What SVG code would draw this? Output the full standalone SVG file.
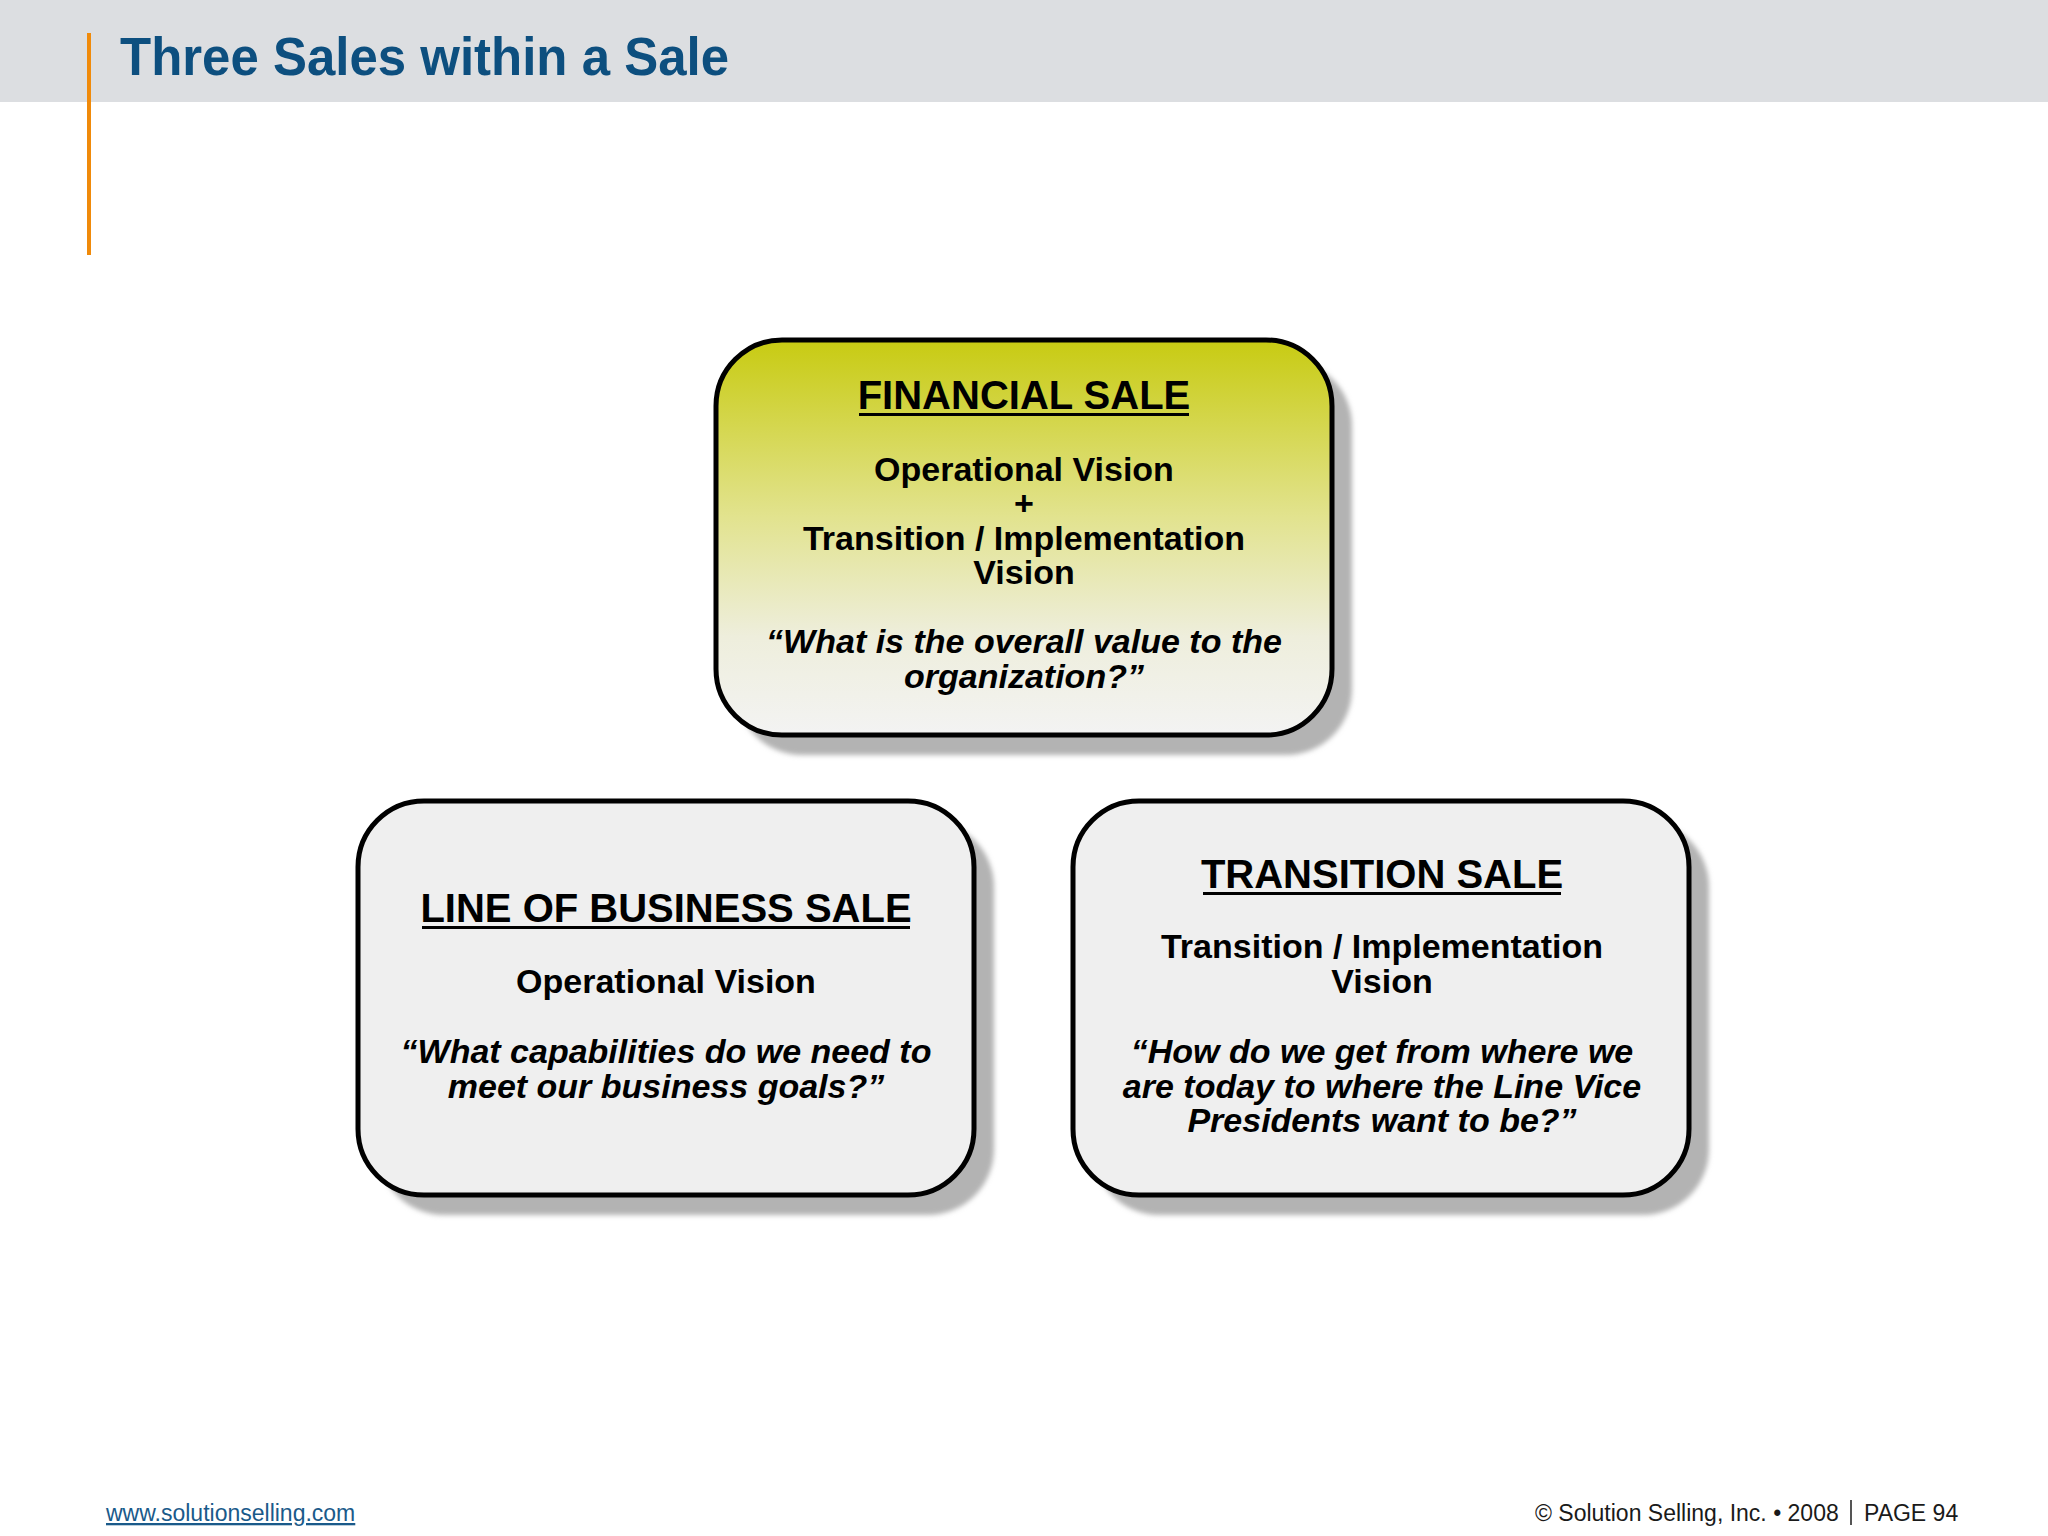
<svg xmlns="http://www.w3.org/2000/svg" width="2048" height="1536" viewBox="0 0 2048 1536">
  <style>
    .box { stroke: #000; stroke-width: 5; }
    .shadow { fill: #b3b3b3; }
    .head { font-family: "Liberation Sans", Arial, sans-serif; font-weight: bold; font-size: 40px; fill: #000; text-anchor: middle; }
    .sub { font-family: "Liberation Sans", Arial, sans-serif; font-weight: bold; font-size: 34px; fill: #000; text-anchor: middle; }
    .q { font-family: "Liberation Sans", Arial, sans-serif; font-weight: bold; font-style: italic; font-size: 34px; fill: #000; text-anchor: middle; }
    .foot { font-family: "Liberation Sans", Arial, sans-serif; font-size: 23px; fill: #1a1a1a; }
  </style>
  <defs>
    <linearGradient id="finGrad" x1="0" y1="0" x2="0" y2="1">
      <stop offset="0" stop-color="#c8cb12"/>
      <stop offset="0.45" stop-color="#e2e38f"/>
      <stop offset="0.75" stop-color="#eeeedc"/>
      <stop offset="1" stop-color="#f3f3f3"/>
    </linearGradient>
    <filter id="blur" x="-10%" y="-10%" width="120%" height="120%">
      <feGaussianBlur stdDeviation="2.5"/>
    </filter>
  </defs>

  <rect x="0" y="0" width="2048" height="102" fill="#dcdee1"/>
  <rect x="87" y="33" width="4" height="222" fill="#f08a0a"/>
  <text x="120" y="75" font-family="Liberation Sans, Arial, sans-serif" font-weight="bold" font-size="54" fill="#0d4f7f" textLength="609" lengthAdjust="spacingAndGlyphs">Three Sales within a Sale</text>

  <g id="connectors"></g>

  <g id="financial-sale">
    <rect class="shadow" x="736" y="360" width="616" height="395" rx="66" filter="url(#blur)"/>
    <rect class="box" x="716" y="340" width="616" height="395" rx="66" fill="url(#finGrad)"/>
    <text class="head" x="1024" y="409">FINANCIAL SALE</text>
    <rect x="859" y="413" width="330" height="3" fill="#000"/>
    <text class="sub" x="1024" y="481">Operational Vision</text>
    <text class="sub" x="1024" y="515">+</text>
    <text class="sub" x="1024" y="550">Transition / Implementation</text>
    <text class="sub" x="1024" y="584">Vision</text>
    <text class="q" x="1024" y="653">“What is the overall value to the</text>
    <text class="q" x="1024" y="688">organization?”</text>
  </g>

  <g id="line-of-business-sale">
    <rect class="shadow" x="378" y="821" width="616" height="394" rx="66" filter="url(#blur)"/>
    <rect class="box" x="358" y="801" width="616" height="394" rx="66" fill="#efefef"/>
    <text class="head" x="666" y="922">LINE OF BUSINESS SALE</text>
    <rect x="422" y="926" width="488" height="3" fill="#000"/>
    <text class="sub" x="666" y="993">Operational Vision</text>
    <text class="q" x="666" y="1063">“What capabilities do we need to</text>
    <text class="q" x="666" y="1098">meet our business goals?”</text>
  </g>

  <g id="transition-sale">
    <rect class="shadow" x="1093" y="821" width="616" height="394" rx="66" filter="url(#blur)"/>
    <rect class="box" x="1073" y="801" width="616" height="394" rx="66" fill="#efefef"/>
    <text class="head" x="1382" y="888">TRANSITION SALE</text>
    <rect x="1203" y="892" width="358" height="3" fill="#000"/>
    <text class="sub" x="1382" y="958">Transition / Implementation</text>
    <text class="sub" x="1382" y="993">Vision</text>
    <text class="q" x="1382" y="1063">“How do we get from where we</text>
    <text class="q" x="1382" y="1098">are today to where the Line Vice</text>
    <text class="q" x="1382" y="1132">Presidents want to be?”</text>
  </g>

  <text class="foot" x="106" y="1521" style="fill:#1a5a8a" text-decoration="underline">www.solutionselling.com</text>
  <text class="foot" x="1535" y="1521">© Solution Selling, Inc. • 2008</text>
  <rect x="1850" y="1500" width="2" height="25" fill="#555"/>
  <text class="foot" x="1864" y="1521">PAGE 94</text>
</svg>
